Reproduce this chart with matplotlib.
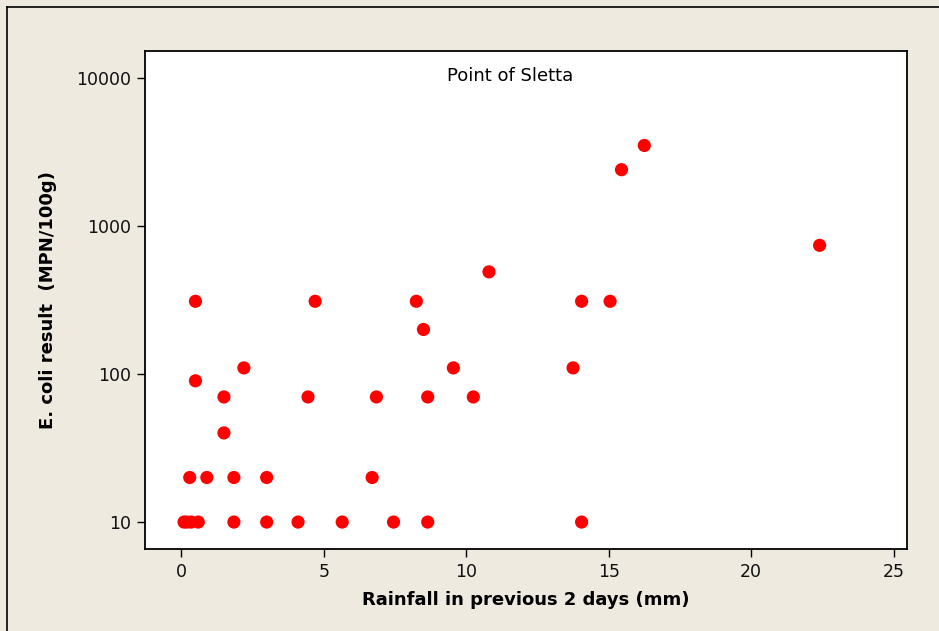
import matplotlib
matplotlib.use("Agg")
import matplotlib.pyplot as plt
from matplotlib.ticker import FixedLocator, FixedFormatter, NullLocator
from matplotlib.lines import Line2D

# Data
rainfall_mm = [0.1, 0.2, 0.35, 0.6, 1.85, 3.0, 4.1, 5.65, 7.45, 8.65, 14.05,
               0.3, 0.9, 1.85, 3.0, 6.7,
               1.5,
               1.5, 4.45, 6.85, 8.65, 10.25,
               0.5,
               2.2, 9.55, 13.75,
               8.5,
               0.5, 4.7, 8.25, 14.05, 15.05,
               10.8,
               22.4,
               15.45,
               16.25]
ecoli = [10, 10, 10, 10, 10, 10, 10, 10, 10, 10, 10,
         20, 20, 20, 20, 20,
         40,
         70, 70, 70, 70, 70,
         90,
         110, 110, 110,
         200,
         310, 310, 310, 310, 310,
         490,
         740,
         2400,
         3500]

x_ticks = [0, 5, 10, 15, 20, 25]
y_ticks = [10, 100, 1000, 10000]
y_tick_labels = ["10", "100", "1000", "10000"]

title = "Point of Sletta"
x_label = "Rainfall in previous 2 days (mm)"
y_label = "E. coli result  (MPN/100g)"

bg = "#EEEAE0"
fig = plt.figure(figsize=(9.39, 6.31), dpi=100, facecolor=bg)
ax = fig.add_axes([145/939, 1-549/631, (906.5-145)/939, (549-51)/631])
ax.set_facecolor("white")

ax.scatter(rainfall_mm, ecoli, s=90, color="#FF0000", edgecolors="none", zorder=3)

ax.set_yscale("log")
ax.set_xlim(-1.27, 25.45)
ax.set_ylim(10**0.818, 10**4.182)

ax.xaxis.set_major_locator(FixedLocator(x_ticks))
ax.yaxis.set_major_locator(FixedLocator(y_ticks))
ax.yaxis.set_major_formatter(FixedFormatter(y_tick_labels))
ax.yaxis.set_minor_locator(NullLocator())
ax.xaxis.set_minor_locator(NullLocator())

for s in ax.spines.values():
    s.set_linewidth(1.3)
    s.set_color("black")

ax.tick_params(axis="both", which="major", direction="out", length=6, width=1.0,
               pad=4.3, labelsize=12.5, colors="black", labelcolor="#111111")

ax.text(0.4793, 0.9398, title, transform=ax.transAxes, ha="center", va="baseline",
        fontsize=13, color="black")

ax.set_xlabel(x_label, fontsize=13, fontweight="bold", va="center")
ax.xaxis.set_label_coords(0.5, (549-600)/498)
ax.set_ylabel(y_label, fontsize=13, fontweight="bold", va="center")
ax.yaxis.set_label_coords((48-145)/761.5, 0.5)

# Outer frame lines (top and left visible in reference)
fig.add_artist(Line2D([7/939, 7/939], [0, 1-7/631], transform=fig.transFigure,
                      color="black", linewidth=1.2))
fig.add_artist(Line2D([7/939, 1], [1-7/631, 1-7/631], transform=fig.transFigure,
                      color="black", linewidth=1.2))

fig.savefig("out.png", dpi=100, facecolor=bg)
